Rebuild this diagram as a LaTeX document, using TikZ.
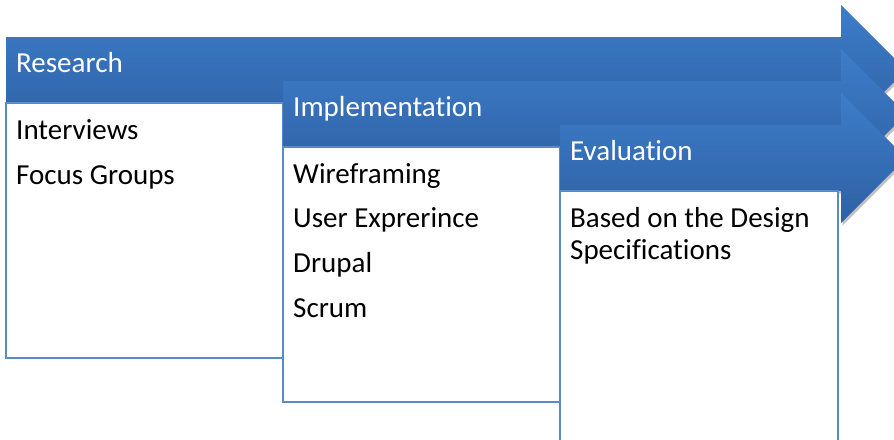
\documentclass[tikz,border=0pt]{standalone}
\usepackage{fontspec}
\setmainfont{Carlito}[Ligatures=NoCommon]
\usetikzlibrary{shadows}
\definecolor{arrtop}{HTML}{3D7DCA}
\definecolor{arrbot}{HTML}{2E60A3}
\definecolor{boxline}{HTML}{5A8AC8}
\tikzset{
  arrowshape/.style={top color=arrtop, bottom color=arrbot, draw=none,
    drop shadow={shadow xshift=1.5pt, shadow yshift=-2.5pt, opacity=0.35, fill=black!70}},
  boxshape/.style={fill=white, draw=boxline, line width=1.5pt},
  titletext/.style={anchor=base west, text=white, font=\fontsize{29}{35}\selectfont, inner sep=0pt},
  itemtext/.style={anchor=base west, text=black, font=\fontsize{29}{35}\selectfont, inner sep=0pt},
}
\begin{document}
\begin{tikzpicture}[x=1pt,y=-1pt]
\useasboundingbox (0,0) rectangle (894,439);
\clip (0,0) rectangle (894,439);
% Research
\path[arrowshape] (6,37) -- (841,37) -- (841,5) -- (906,70) -- (841,135) -- (841,103) -- (6,103) -- cycle;
\path[boxshape] (6,103) rectangle (283,358);
\node[titletext] (research) at (16,72) {Research};
\node[itemtext] (interviews) at (16,139) {Interviews};
\node[itemtext] (focus) at (16,184) {Focus Groups};
% Implementation
\path[arrowshape] (283,81) -- (841,81) -- (841,49) -- (906,114) -- (841,179) -- (841,147) -- (283,147) -- cycle;
\path[boxshape] (283,147) rectangle (560,402);
\node[titletext] (impl) at (293,116) {Implementation};
\node[itemtext] (wire) at (293,183) {Wireframing};
\node[itemtext] (ux) at (293,227.7) {User Exprerince};
\node[itemtext] (drupal) at (293,272.4) {Drupal};
\node[itemtext] (scrum) at (293,317) {Scrum};
% Evaluation
\path[arrowshape] (560,125) -- (841,125) -- (841,93) -- (906,158) -- (841,223) -- (841,191) -- (560,191) -- cycle;
\path[boxshape] (560,191) rectangle (838,460);
\node[titletext] (eval) at (570,160) {Evaluation};
\node[itemtext] (based) at (570,227) {Based on the Design};
\node[itemtext] (spec) at (570,259) {Specifications};
\end{tikzpicture}
\end{document}
